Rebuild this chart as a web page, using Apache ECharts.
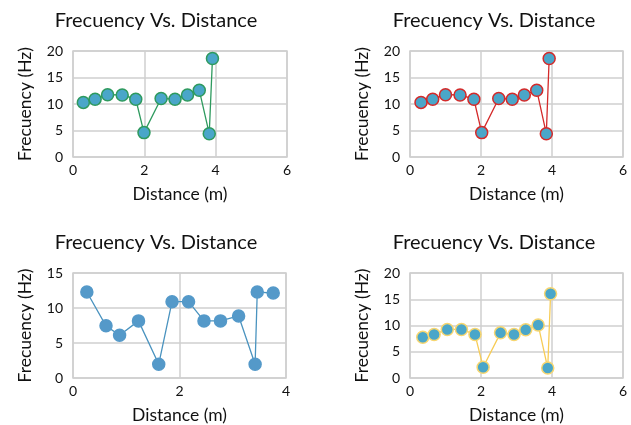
<!DOCTYPE html>
<html><head><meta charset="utf-8">
<script src="https://cdn.jsdelivr.net/npm/echarts@6/dist/echarts.min.js"></script>
<style>html,body{margin:0;padding:0;background:#fff}#c{width:631px;height:425px}</style>
</head><body><div id="c"></div>
<script>
const titleText = "Frecuency Vs. Distance";
const xName = "Distance (m)";
const yName = "Frecuency (Hz)";

const x1 = [0.29, 0.62, 0.97, 1.38, 1.76, 1.99, 2.47, 2.86, 3.21, 3.54, 3.82, 3.91];
const y1 = [10.3, 10.9, 11.75, 11.7, 10.9, 4.6, 11.05, 10.9, 11.7, 12.6, 4.4, 18.6];
const x2 = [0.31, 0.64, 1.0, 1.41, 1.8, 2.02, 2.5, 2.88, 3.22, 3.57, 3.84, 3.92];
const y2 = [10.3, 10.9, 11.75, 11.7, 10.9, 4.6, 11.05, 10.9, 11.7, 12.6, 4.4, 18.6];
const x3 = [0.26, 0.62, 0.875, 1.23, 1.61, 1.86, 2.17, 2.46, 2.77, 3.11, 3.42, 3.46, 3.76];
const y3 = [12.28, 7.45, 6.1, 8.16, 1.97, 10.9, 10.9, 8.16, 8.16, 8.86, 1.97, 12.28, 12.14];
const x4 = [0.36, 0.68, 1.05, 1.45, 1.83, 2.06, 2.55, 2.93, 3.26, 3.61, 3.88, 3.96];
const y4 = [7.75, 8.3, 9.25, 9.25, 8.3, 2.06, 8.6, 8.3, 9.2, 10.1, 1.9, 16.06];

const xMax = [6, 6, 4, 6];
const xInterval = [2, 2, 2, 2];
const yMax = [20, 20, 15, 20];
const yInterval = [5, 5, 5, 5];

const lineColors = ["#2e9a5e", "#d42a2a", "#4a93bf", "#f7cc55"];
const markerFill = ["#4aa6c9", "#4aa6c9", "#5499c9", "#4aa6c9"];
const markerBorder = ["#2e9a5e", "#d42a2a", "#5499c9", "#f7d670"];

const FONT = "Lato";
const grids = [
  {left: 73, top: 51, width: 214, height: 106},
  {left: 410, top: 51, width: 213, height: 106},
  {left: 73, top: 273, width: 213, height: 107},
  {left: 410, top: 273, width: 213, height: 107}
];
const titlePos = [[151, 6], [489, 6], [151, 228], [489, 228]];
const xs = [x1, x2, x3, x4], ys = [y1, y2, y3, y4];

const chart = echarts.init(document.getElementById('c'), null, {renderer: 'canvas'});
const option = {
  animation: false,
  backgroundColor: '#fff',
  title: titlePos.map(p => ({
    text: titleText, left: p[0], top: p[1], textAlign: 'center',
    textStyle: {fontFamily: FONT, fontSize: 20, fontWeight: 'normal', color: '#111'}
  })),
  grid: grids.map(g => Object.assign({show: true, borderColor: '#cfcfcf', borderWidth: 1.5, backgroundColor: 'transparent'}, g)),
  xAxis: grids.map((g, i) => ({
    type: 'value', gridIndex: i, min: 0, max: xMax[i], interval: xInterval[i],
    name: xName, nameLocation: 'middle', nameGap: 28,
    nameTextStyle: {fontFamily: FONT, fontSize: 17.5, color: '#111'},
    axisLine: {show: false}, axisTick: {show: false},
    axisLabel: {fontFamily: FONT, fontSize: 14, color: '#111', margin: 6},
    splitLine: {show: true, lineStyle: {color: '#cfcfcf', width: 1.5}}
  })),
  yAxis: grids.map((g, i) => ({
    type: 'value', gridIndex: i, min: 0, max: yMax[i], interval: yInterval[i],
    name: yName, nameLocation: 'middle', nameGap: 39,
    nameTextStyle: {fontFamily: FONT, fontSize: 17.5, color: '#111'},
    axisLine: {show: false}, axisTick: {show: false},
    axisLabel: {fontFamily: FONT, fontSize: 14, color: '#111', margin: 10},
    splitLine: {show: true, lineStyle: {color: '#cfcfcf', width: 1.5}}
  })),
  series: xs.map((xv, i) => ({
    type: 'line', xAxisIndex: i, yAxisIndex: i,
    data: xv.map((x, k) => [x, ys[i][k]]),
    symbol: 'circle', symbolSize: 12,
    lineStyle: {color: lineColors[i], width: 1.3},
    itemStyle: {color: markerFill[i], borderColor: markerBorder[i], borderWidth: 1.5}
  }))
};
chart.setOption(option);
</script>
</body></html>
